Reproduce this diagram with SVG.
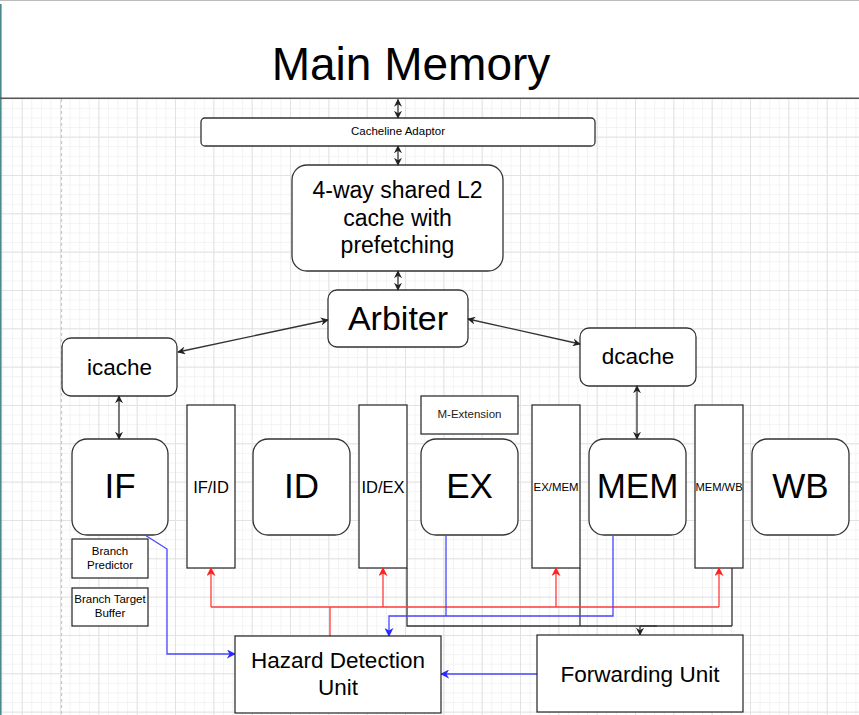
<svg xmlns="http://www.w3.org/2000/svg" width="859" height="715" viewBox="0 0 859 715">
<style>
text{font-family:"Liberation Sans",Arial,Helvetica,sans-serif;fill:#000;text-anchor:middle}
.box{fill:#fff;stroke:#333;stroke-width:1.3}
.reg{fill:#fff;stroke:#222;stroke-width:1.2}
.blk{fill:none;stroke:#333;stroke-width:1.3}
.red{fill:none;stroke:#ff3b3b;stroke-width:1.3}
.blu{fill:none;stroke:#4646ff;stroke-width:1.3}
.big{font-size:35px}
.mid{font-size:22.5px}
.sm{font-size:11.5px}
.regt{font-size:16.5px}
</style>
<defs>
<pattern id="gMinor" width="9.5833" height="9.5833" patternUnits="userSpaceOnUse" x="21.7" y="98.3">
<rect x="0" y="0" width="1" height="9.5833" fill="#f3f3f3"/>
<rect x="0" y="0" width="9.5833" height="1" fill="#f3f3f3"/>
</pattern>
<pattern id="gMajor" width="38.333" height="38.333" patternUnits="userSpaceOnUse" x="21.7" y="98.3">
<rect x="0" y="0" width="1" height="38.333" fill="#e2e2e2"/>
<rect x="0" y="0" width="38.333" height="1" fill="#e2e2e2"/>
</pattern>
<marker id="aK" viewBox="0 0 10 10" refX="9" refY="5" markerWidth="8" markerHeight="8" markerUnits="userSpaceOnUse" orient="auto-start-reverse"><path d="M0,0 L10,5 L0,10 L3,5 z" fill="#222"/></marker>
<marker id="aR" viewBox="0 0 10 10" refX="9" refY="5" markerWidth="9" markerHeight="9" markerUnits="userSpaceOnUse" orient="auto-start-reverse"><path d="M0,0 L10,5 L0,10 L3,5 z" fill="#ff2020"/></marker>
<marker id="aB" viewBox="0 0 10 10" refX="9" refY="5" markerWidth="9" markerHeight="9" markerUnits="userSpaceOnUse" orient="auto-start-reverse"><path d="M0,0 L10,5 L0,10 L3,5 z" fill="#2a2aff"/></marker>
</defs>
<rect x="0" y="0" width="859" height="715" fill="#fff"/>
<rect x="0" y="98" width="859" height="617" fill="url(#gMinor)"/>
<rect x="0" y="98" width="859" height="617" fill="url(#gMajor)"/>
<line x1="0" y1="0.5" x2="859" y2="0.5" stroke="#bbb" stroke-width="1"/>
<line x1="0.8" y1="4" x2="0.8" y2="715" stroke="#4a8a8a" stroke-width="1.6"/>
<line x1="61.5" y1="99" x2="61.5" y2="715" stroke="#c8c8c8" stroke-width="1.2" stroke-dasharray="3,3"/>
<line x1="0" y1="98.3" x2="859" y2="98.3" stroke="#555" stroke-width="1.5"/>

<g id="main-memory"><text x="411" y="80" style="font-size:46px">Main Memory</text></g>

<g id="cacheline-adaptor"><rect class="box" x="201" y="118" width="394" height="28" rx="4"/><text x="398" y="135" style="font-size:11.5px">Cacheline Adaptor</text></g>

<g id="l2-cache"><rect class="box" x="292" y="165" width="211" height="106" rx="15"/>
<text x="397.5" y="198" style="font-size:23px">4-way shared L2</text>
<text x="397.5" y="226" style="font-size:23px">cache with</text>
<text x="397.5" y="253" style="font-size:23px">prefetching</text></g>

<g id="arbiter"><rect class="box" x="328" y="290" width="140" height="57" rx="9"/><text x="398" y="330" style="font-size:34px">Arbiter</text></g>

<g id="icache"><rect class="box" x="62" y="338" width="115" height="58" rx="9"/><text class="mid" x="119.5" y="375">icache</text></g>
<g id="dcache"><rect class="box" x="580" y="328" width="116" height="58" rx="9"/><text class="mid" x="638" y="364">dcache</text></g>

<g id="if"><rect class="box" x="72" y="439" width="96" height="96" rx="15"/><text class="big" x="120" y="498">IF</text></g>
<g id="if-id"><rect class="reg" x="187" y="405" width="48" height="163"/><text class="regt" x="211" y="493">IF/ID</text></g>
<g id="id"><rect class="box" x="253" y="439" width="97" height="96" rx="15"/><text class="big" x="301.5" y="498">ID</text></g>
<g id="id-ex"><rect class="reg" x="359" y="405" width="48" height="163"/><text class="regt" x="383" y="493">ID/EX</text></g>
<g id="m-extension"><rect class="reg" x="421" y="396" width="97" height="38"/><text x="469.5" y="418" style="font-size:11.5px;fill:#222">M-Extension</text></g>
<g id="ex"><rect class="box" x="421" y="439" width="97" height="96" rx="15"/><text class="big" x="469.5" y="498">EX</text></g>
<g id="ex-mem"><rect class="reg" x="532" y="405" width="48" height="163"/><text x="556" y="491" style="font-size:11.4px">EX/MEM</text></g>
<g id="mem"><rect class="box" x="589" y="439" width="97" height="96" rx="15"/><text class="big" x="637.5" y="498">MEM</text></g>
<g id="mem-wb"><rect class="reg" x="695" y="405" width="48" height="163"/><text x="719" y="491" style="font-size:11.2px">MEM/WB</text></g>
<g id="wb"><rect class="box" x="752" y="439" width="97" height="96" rx="15"/><text class="big" x="800.5" y="498">WB</text></g>

<g id="branch-predictor"><rect class="reg" x="72" y="539" width="76" height="39"/><text class="sm" x="110" y="555">Branch</text><text class="sm" x="110" y="569">Predictor</text></g>
<g id="branch-target-buffer"><rect class="reg" x="72" y="588" width="76" height="38"/><text class="sm" x="110" y="603">Branch Target</text><text class="sm" x="110" y="617">Buffer</text></g>

<g id="connectors">
<path class="blk" d="M398,99.5 L398,118" marker-start="url(#aK)" marker-end="url(#aK)"/>
<path class="blk" d="M398,146 L398,165" marker-start="url(#aK)" marker-end="url(#aK)"/>
<path class="blk" d="M398,271 L398,290" marker-start="url(#aK)" marker-end="url(#aK)"/>
<path class="blk" d="M328,320 L178,352" marker-start="url(#aK)" marker-end="url(#aK)"/>
<path class="blk" d="M468,319 L580,344" marker-start="url(#aK)" marker-end="url(#aK)"/>
<path class="blk" d="M119,396 L119,439" marker-start="url(#aK)" marker-end="url(#aK)"/>
<path class="blk" d="M637,386 L637,439" marker-start="url(#aK)" marker-end="url(#aK)"/>

<path class="blk" d="M407,568 L407,626 L732,626"/>
<path class="blk" d="M580,568 L580,626"/>
<path class="blk" d="M732,568 L732,626"/>
<path class="blk" d="M640,626 L657,626" stroke-width="2"/>
<path class="blk" d="M640,626 L640,635" marker-end="url(#aK)"/>

<path class="red" d="M330,636 L330,607"/>
<path class="red" d="M211,607 L719,607"/>
<path class="red" d="M211,607 L211,568" marker-end="url(#aR)"/>
<path class="red" d="M383,607 L383,568" marker-end="url(#aR)"/>
<path class="red" d="M556,607 L556,568" marker-end="url(#aR)"/>
<path class="red" d="M719,607 L719,568" marker-end="url(#aR)"/>

<path class="blu" d="M145,535 L167,549 L167,654 L235,654" marker-end="url(#aB)"/>
<path class="blu" d="M613,535 L613,616 L389,616 L389,636" marker-end="url(#aB)"/>
<path class="blu" d="M446,535 L446,616"/>
<path class="blu" d="M537,674 L441,674" marker-end="url(#aB)"/>
</g>

<g id="hazard-detection-unit"><rect class="reg" x="235" y="636" width="206" height="77"/><text class="mid" x="338" y="668">Hazard Detection</text><text class="mid" x="338" y="695">Unit</text></g>
<g id="forwarding-unit"><rect class="reg" x="537" y="635" width="206" height="77"/><text class="mid" x="640" y="682">Forwarding Unit</text></g>
</svg>
